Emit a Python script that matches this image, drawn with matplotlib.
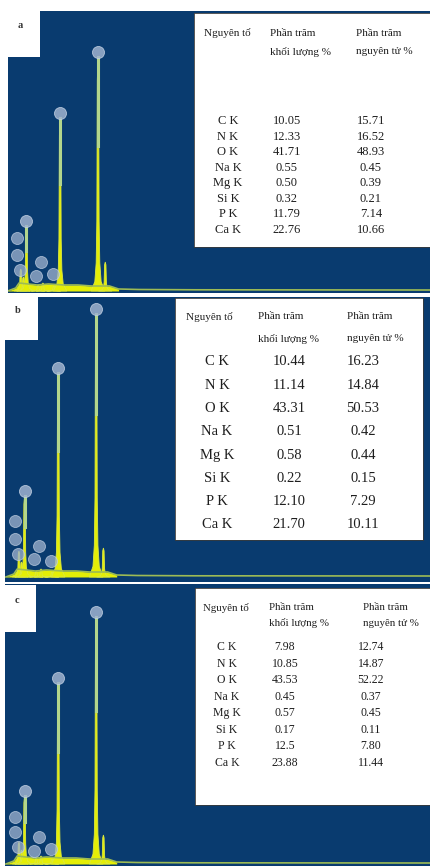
import matplotlib
matplotlib.use('Agg')
import matplotlib.pyplot as plt
import numpy as np

W, H = 431, 866

# ---- table data ----
elements = ['C K', 'N K', 'O K', 'Na K', 'Mg K', 'Si K', 'P K', 'Ca K']
mass_a = ['10.05', '12.33', '41.71', '0.55', '0.50', '0.32', '11.79', '22.76']
atom_a = ['15.71', '16.52', '48.93', '0.45', '0.39', '0.21', '7.14', '10.66']
mass_b = ['10.44', '11.14', '43.31', '0.51', '0.58', '0.22', '12.10', '21.70']
atom_b = ['16.23', '14.84', '50.53', '0.42', '0.44', '0.15', '7.29', '10.11']
mass_c = ['7.98', '10.85', '43.53', '0.45', '0.57', '0.17', '12.5', '23.88']
atom_c = ['12.74', '14.87', '52.22', '0.37', '0.45', '0.11', '7.80', '11.44']

# ---- spectrum data (keV, counts) ----
peak_keV = [0.277, 0.392, 0.525, 1.041, 1.254, 1.740, 2.013, 3.690, 4.012]
peaks_a = [22, 14, 65, 6, 8, 5, 173, 234, 29]
peaks_b = [26, 15, 81, 6, 8, 5, 204, 263, 29]
peaks_c = [22, 14, 68, 6, 8, 5, 181, 247, 29]
bg_keV = [-0.3, 0.05, 0.2, 0.6, 1.0, 1.5, 2.2, 2.8, 3.4, 4.2, 4.6, 5.5, 8.0, 18.5]
bg_counts = [0, 3, 8, 7, 6, 7, 6, 6, 5, 5, 2, 1.5, 1.2, 1]
# small element markers (keV, counts)
mark_keV = [0.12, 0.12, 0.25, 1.15, 0.95, 1.68]
marks_a = [53, 36, 21, 29, 15, 17]
marks_b = [56, 38, 23, 31, 18, 16]
marks_c = [47, 32, 17, 27, 13, 15]

BLUE = '#093b6f'
YELLOW = '#e4ee06'
SERIF = ['Liberation Serif', 'DejaVu Serif']
INK = '#1e1e1e'


def box(x0, y0, x1, y1):
    return [x0 / W, 1 - y1 / H, (x1 - x0) / W, (y1 - y0) / H]


fig = plt.figure(figsize=(W / 100, H / 100), dpi=100)
fig.patch.set_facecolor('white')

# peak outline shape (relative)
prof_dx = np.array([-0.3, -0.14, -0.08, -0.05, -0.03, 0, 0.03, 0.05, 0.08, 0.14, 0.3])
prof_f = np.array([0, 0.04, 0.12, 0.3, 0.9, 1, 0.9, 0.3, 0.12, 0.04, 0])

panels = [
    (box(8, 11, 431, 293), (-0.29, 18.42), (-2, 280), peaks_a, marks_a),
    (box(5, 297, 431, 582), (-0.34, 18.5), (-5, 280), peaks_b, marks_b),
    (box(5, 584, 431, 866), (-0.34, 18.5), (-2, 280), peaks_c, marks_c),
]

for rect, xl, yl, pk, mk in panels:
    ax = fig.add_axes(rect)
    ax.set_facecolor(BLUE)
    ax.set_xlim(*xl)
    ax.set_ylim(*yl)
    ax.set_xticks([])
    ax.set_yticks([])
    for s in ax.spines.values():
        s.set_visible(False)
    bx = np.array(bg_keV)
    by = np.array(bg_counts)
    ax.fill_between(bx, 0, by, where=bx <= 4.6, color=YELLOW, lw=0)
    ax.plot(bx, by, color='#9dbb55', lw=1.2)
    for e, h in zip(peak_keV, pk):
        ax.fill(e + prof_dx, h * prof_f, color=YELLOW, lw=0.6, ec='#dbe840')
        if h > 50:
            ax.plot([e, e], [0.62 * h, h], color='#b3d68c', lw=2.2)
    # element markers
    top3 = [pk[2], pk[6], pk[7]]
    ax.scatter([peak_keV[2], peak_keV[6], peak_keV[7]], [t + 5 for t in top3],
               s=75, color='#9fb3cf', alpha=0.85, edgecolors='#c4d2e4', linewidths=0.6, zorder=5)
    ax.scatter(mark_keV, mk, s=75, color='#9fb3cf', alpha=0.75,
               edgecolors='#c4d2e4', linewidths=0.6, zorder=5)

# ---- tables ----
tables = [
    # box, key, header y (line1, line2), header x, col x (elem, mass, atom), rows y range, sizes
    ((194, 13, 431, 247), 'a', (20, 39), (10, 76, 162), (34, 93, 177), (108, 217), 8.0, 9.0),
    ((175, 298, 423, 540), 'b', (19, 41), (11, 83, 172), (42, 114, 188), (64, 227), 8.0, 10.5),
    ((195, 588, 431, 805), 'c', (20, 35), (8, 74, 168), (32, 90, 176), (59, 175), 7.8, 8.5),
]
data = {'a': (mass_a, atom_a), 'b': (mass_b, atom_b), 'c': (mass_c, atom_c)}

for (x0, y0, x1, y1), key, hy, hx, cx, ry, hs, rs in tables:
    t = fig.add_axes(box(x0, y0, x1, y1))
    t.set_facecolor('white')
    t.set_xlim(0, x1 - x0)
    t.set_ylim(y1 - y0, 0)
    t.set_xticks([])
    t.set_yticks([])
    for s in t.spines.values():
        s.set_color('#3a3a3a')
        s.set_linewidth(0.6)
    t.text(hx[0], hy[0], 'Nguyên tố', fontsize=hs, family=SERIF, va='center', color=INK)
    t.text(hx[1], hy[0], 'Phần trăm', fontsize=hs, family=SERIF, va='center', color=INK)
    t.text(hx[1], hy[1], 'khối lượng %', fontsize=hs, family=SERIF, va='center', color=INK)
    t.text(hx[2], hy[0], 'Phần trăm', fontsize=hs, family=SERIF, va='center', color=INK)
    t.text(hx[2], hy[1], 'nguyên tử %', fontsize=hs, family=SERIF, va='center', color=INK)
    mass, atom = data[key]
    ys = np.linspace(ry[0], ry[1], len(elements))
    for i in range(len(elements)):
        t.text(cx[0], ys[i], elements[i], fontsize=rs, family=SERIF, ha='center', va='center', color=INK)
        t.text(cx[1], ys[i], mass[i], fontsize=rs, family=SERIF, ha='center', va='center', color=INK)
        t.text(cx[2], ys[i], atom[i], fontsize=rs, family=SERIF, ha='center', va='center', color=INK)

# ---- panel letters ----
for (x0, y0, x1, y1), lab in [((8, 10, 40, 57), 'a'), ((5, 297, 38, 340), 'b'), ((5, 585, 36, 632), 'c')]:
    la = fig.add_axes(box(x0, y0, x1, y1))
    la.set_facecolor('white')
    la.set_xticks([])
    la.set_yticks([])
    for s in la.spines.values():
        s.set_visible(False)
    la.text(0.38, 0.68, lab, transform=la.transAxes, fontsize=7.5, family=SERIF,
            fontweight='bold', ha='center', va='center', color='#333')

fig.savefig('out.png', dpi=100)
